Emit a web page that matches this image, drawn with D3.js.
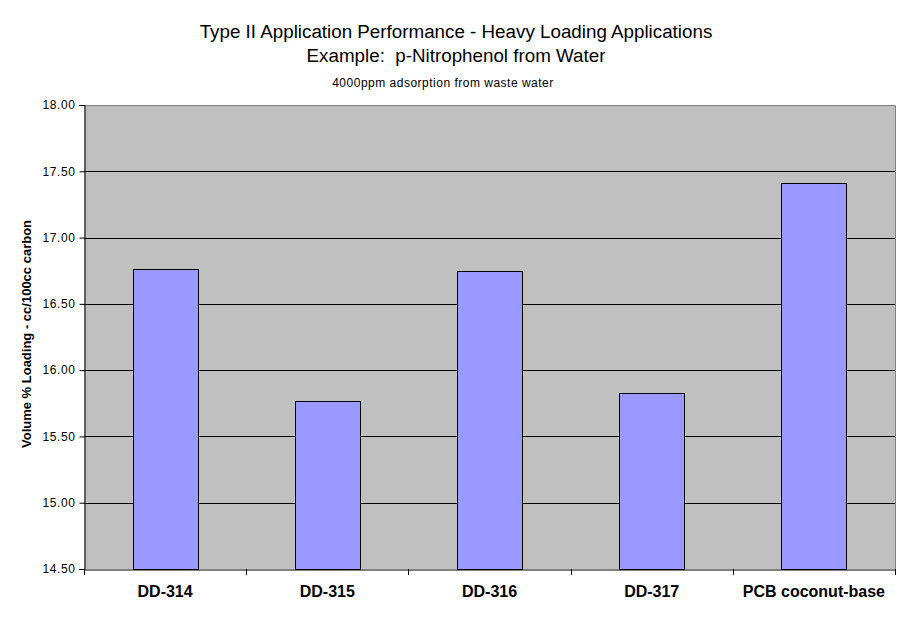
<!DOCTYPE html>
<html><head><meta charset="utf-8">
<script src="https://cdn.jsdelivr.net/npm/d3@7"></script>
<style>body{margin:0;background:#fff}svg{display:block}text{font-family:"Liberation Sans",Arial,sans-serif}</style>
</head><body><svg id="c" width="912" height="623"></svg>
<script>
const categories = ["DD-314","DD-315","DD-316","DD-317","PCB coconut-base"];
const values = [16.76, 15.765, 16.75, 15.825, 17.41];
const yTicks = [14.5,15,15.5,16,16.5,17,17.5,18];

const svg = d3.select("#c");
const m = {l:84, t:105, r:895, b:569};
const x = d3.scaleBand().domain(categories).range([m.l,m.r]).paddingInner(0.6).paddingOuter(0.3);
const xb = d3.scaleBand().domain(categories).range([m.l,m.r]);
const y = d3.scaleLinear().domain([14.5,18]).range([m.b,m.t]);

svg.append("rect").attr("x",m.l).attr("y",m.t).attr("width",m.r-m.l).attr("height",m.b-m.t).attr("fill","#c0c0c0");
// gridlines
svg.append("g").selectAll("line").data(yTicks.filter(d=>d>14.5&&d<18)).join("line")
  .attr("x1",m.l).attr("x2",m.r).attr("y1",d=>Math.round(y(d))+0.5).attr("y2",d=>Math.round(y(d))+0.5)
  .attr("stroke","#000").attr("stroke-width",1);
// border top/right
svg.append("path").attr("d",`M${m.l},${m.t+0.5}H${m.r+0.5}V${m.b}`).attr("fill","none").attr("stroke","#808080");
// bars
svg.append("g").selectAll("rect").data(values).join("rect")
  .attr("x",(d,i)=>Math.round(x(categories[i]))+0.5).attr("width",Math.round(x.bandwidth()))
  .attr("y",d=>Math.round(y(d))+0.5).attr("height",d=>Math.round(y(14.5))-Math.round(y(d)))
  .attr("fill","#9999ff").attr("stroke","#000").attr("stroke-width",1);
// y axis
const ya = svg.append("g").attr("transform",`translate(${m.l+0.5},0)`)
  .call(d3.axisLeft(y).tickValues(yTicks).tickFormat(d3.format(".2f")).tickSize(5).tickPadding(4));
ya.select(".domain").attr("stroke","#000");
ya.selectAll("text").attr("font-size",12).attr("fill","#000").style("letter-spacing","0.6px").attr("font-family","Liberation Sans, Arial, sans-serif");
// x axis
const xa = svg.append("g").attr("transform",`translate(0,${m.b+0.5})`)
  .call(d3.axisBottom(xb).tickSize(0).tickPadding(16));
xa.select(".domain").attr("stroke","#000");
xa.selectAll("text").attr("font-size",16).attr("font-weight","bold").attr("fill","#000").attr("font-family","Liberation Sans, Arial, sans-serif");
svg.append("g").selectAll("line").data(d3.range(categories.length+1)).join("line")
  .attr("x1",i=>Math.round(m.l+i*xb.step())+0.5).attr("x2",i=>Math.round(m.l+i*xb.step())+0.5)
  .attr("y1",m.b).attr("y2",m.b+6).attr("stroke","#000");
// titles
svg.append("text").attr("x",456).attr("y",38).attr("text-anchor","middle").attr("font-size",18.8).text("Type II Application Performance - Heavy Loading Applications");
svg.append("text").attr("x",456).attr("y",62).attr("text-anchor","middle").attr("font-size",18.8).style("white-space","pre").text("Example:  p-Nitrophenol from Water");
svg.append("text").attr("x",443).attr("y",87).attr("text-anchor","middle").attr("font-size",12).style("letter-spacing","0.5px").text("4000ppm adsorption from waste water");
svg.append("text").attr("transform","translate(31,334) rotate(-90)").attr("text-anchor","middle").attr("font-size",13).attr("font-weight","bold").text("Volume % Loading - cc/100cc carbon");
</script></body></html>
